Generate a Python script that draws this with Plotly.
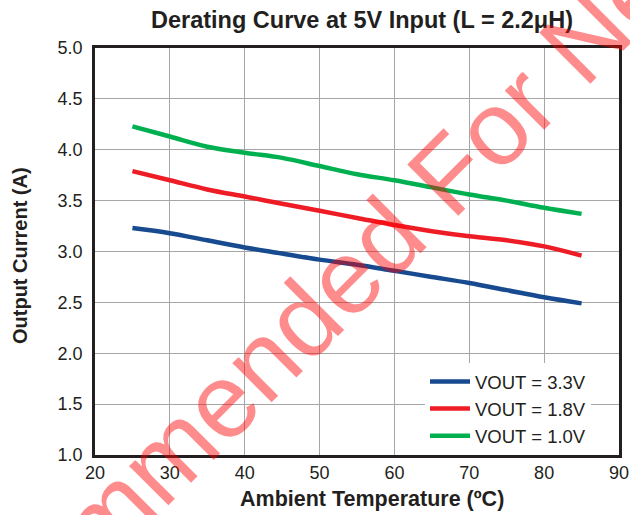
import plotly.graph_objects as go

temps = [25, 30, 35, 40, 45, 50, 55, 60, 65, 70, 75, 80, 85]
vout_3v3 = [3.23, 3.18, 3.11, 3.04, 2.98, 2.92, 2.87, 2.81, 2.75, 2.69, 2.62, 2.55, 2.49]
vout_1v8 = [3.79, 3.70, 3.61, 3.54, 3.47, 3.40, 3.33, 3.26, 3.20, 3.15, 3.11, 3.05, 2.96]
vout_1v0 = [4.23, 4.13, 4.03, 3.97, 3.92, 3.84, 3.76, 3.70, 3.63, 3.56, 3.50, 3.43, 3.37]
series_names = ["VOUT = 3.3V", "VOUT = 1.8V", "VOUT = 1.0V"]
series_colors = ["#174A8E", "#EE1C25", "#00B050"]
x_ticks = [20, 30, 40, 50, 60, 70, 80, 90]
y_ticks = [1.0, 1.5, 2.0, 2.5, 3.0, 3.5, 4.0, 4.5, 5.0]

FONT = "Liberation Sans, Arial, Helvetica, sans-serif"
INK = "#231F20"

fig = go.Figure()
for name, vals, col in zip(series_names, [vout_3v3, vout_1v8, vout_1v0], series_colors):
    fig.add_trace(go.Scatter(x=temps, y=vals, mode="lines", name=name,
                             line=dict(color=col, width=4.5, shape="spline")))

W, H = 630, 515
L, R, T, B = 95, 11, 48, 60
pw, ph = W - L - R, H - T - B

def px(x):
    return (x - L) / pw

def py(y):
    return (H - B - y) / ph

fig.update_layout(
    width=W, height=H,
    margin=dict(l=L, r=R, t=T, b=B, autoexpand=False),
    paper_bgcolor="white", plot_bgcolor="white",
    font=dict(family=FONT, color=INK),
    title=dict(text="<b>Derating Curve at 5V Input (L = 2.2μH)</b>",
               x=px(362), xref="paper", xanchor="center",
               y=1 - 20 / H, yanchor="middle",
               font=dict(size=23.5, family=FONT, color=INK)),
    showlegend=True,
    legend=dict(x=px(425), y=py(363), xanchor="left", yanchor="top",
                bgcolor="white", borderwidth=0,
                font=dict(size=18.5, family=FONT, color=INK),
                tracegroupgap=0, itemwidth=40),
    xaxis=dict(range=[20, 90], tickvals=x_ticks, ticktext=[str(v) for v in x_ticks],
               showgrid=True, gridcolor="#A6A6A6", gridwidth=1,
               showline=True, linecolor=INK, linewidth=2.5, mirror=True,
               ticks="", tickfont=dict(size=18, family=FONT, color=INK),
               zeroline=False, automargin=False),
    yaxis=dict(range=[1.0, 5.0], tickvals=y_ticks, ticktext=[f"{v:.1f}" for v in y_ticks],
               showgrid=True, gridcolor="#A6A6A6", gridwidth=1,
               showline=True, linecolor=INK, linewidth=2.5, mirror=True,
               ticks="", ticklabelstandoff=6,
               tickfont=dict(size=18, family=FONT, color=INK),
               zeroline=False, automargin=False),
)

fig.add_annotation(text="<b>Output Current (A)</b>", xref="paper", yref="paper",
                   x=px(20), y=py(256), xanchor="center", yanchor="middle",
                   showarrow=False, textangle=-90,
                   font=dict(size=20, family=FONT, color=INK))

fig.add_annotation(text="<b>Ambient Temperature (ºC)</b>", xref="paper", yref="paper",
                   x=px(372), y=py(499), xanchor="center", yanchor="middle",
                   showarrow=False, font=dict(size=21.5, family=FONT, color=INK))

fig.add_annotation(text="Not Recommended For New Designs", xref="paper", yref="paper",
                   x=px(381), y=py(242), xanchor="center", yanchor="middle",
                   showarrow=False, textangle=-45,
                   font=dict(size=105, family=FONT, color="rgba(255,0,0,0.45)"))

fig.write_html("out.html")
